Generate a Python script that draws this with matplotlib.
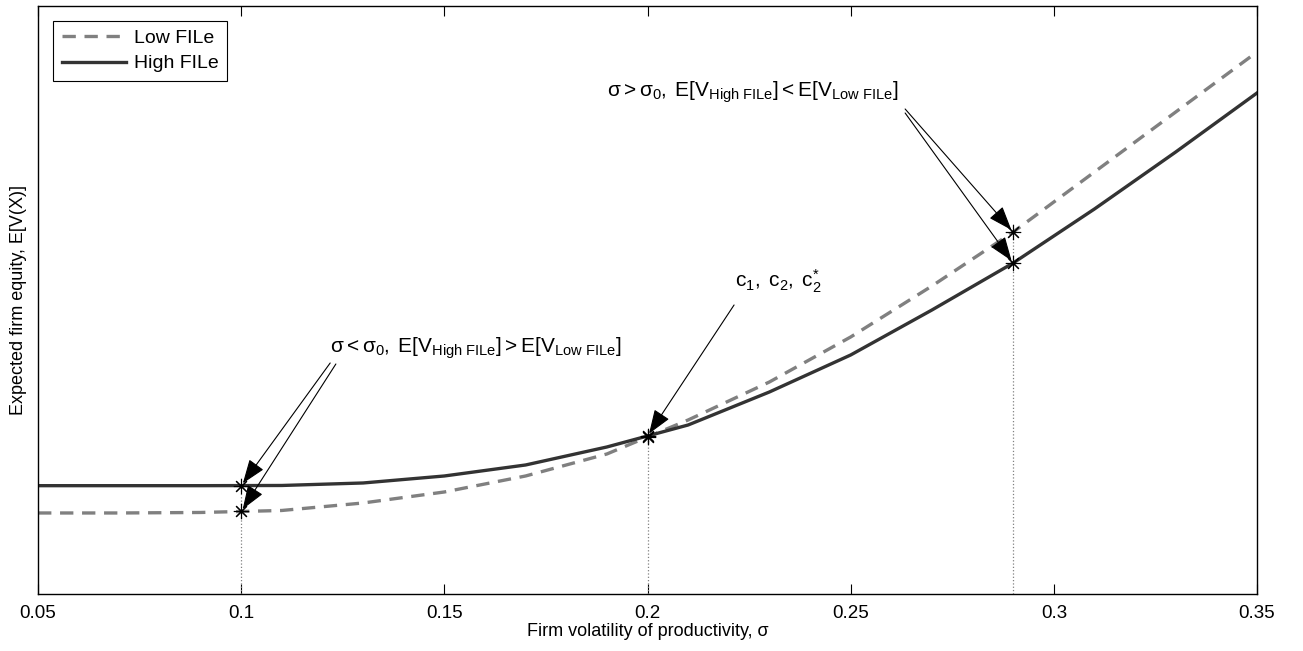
import numpy as np
import matplotlib
matplotlib.use("Agg")
import matplotlib.pyplot as plt

plt.rcParams['font.family'] = ['Liberation Sans', 'DejaVu Sans']
plt.rcParams['mathtext.fontset'] = 'custom'
plt.rcParams['mathtext.rm'] = 'Liberation Sans'
plt.rcParams['mathtext.it'] = 'Liberation Sans:italic'
plt.rcParams['mathtext.bf'] = 'Liberation Sans:bold'

# volatility grid
sigma = [0.05, 0.07, 0.09, 0.11, 0.13, 0.15, 0.17, 0.19,
         0.21, 0.23, 0.25, 0.27, 0.29, 0.31, 0.33, 0.35]
# expected equity (arbitrary units)
low_file = [81, 81, 81.5, 83.5, 91, 102, 118, 140,
            174, 212, 257, 308, 362, 422, 482, 542]
high_file = [108.3, 108.3, 108.3, 108.5, 111, 118, 129, 147,
             169, 202, 239, 284, 331, 385, 442, 501]

# points marked with stars / dotted guides
marked = [0.1, 0.2, 0.29]

lbl_low = r'$\mathrm{\sigma < \sigma_0,\;E[V_{High\ FILe}] > E[V_{Low\ FILe}]}$'
lbl_high = r'$\mathrm{\sigma > \sigma_0,\;E[V_{High\ FILe}] < E[V_{Low\ FILe}]}$'
lbl_c = r'$\mathrm{c_1,\;c_2,\;c_2^{*}}$'

fig = plt.figure(figsize=(13.03, 6.51), dpi=100)
ax = fig.add_axes([0.0292, 0.0876, 0.9355, 0.9032])

ax.plot(sigma, low_file, color='#808080', lw=2.4, dashes=(4, 2.6), label='Low FILe')
ax.plot(sigma, high_file, color='#333333', lw=2.4, label='High FILe')

y_low = np.interp(marked, sigma, low_file)
y_high = np.interp(marked, sigma, high_file)
for xm, yl, yh in zip(marked, y_low, y_high):
    ax.plot([xm, xm], [0, max(yl, yh)], color='#808080', ls=':', lw=0.9)
    ax.plot([xm, xm], [yl, yh], ls='none', marker=(8, 2, 0), ms=11,
            mec='black', mew=0.8)

arrow = dict(arrowstyle='-|>,head_length=1.5,head_width=0.55', color='black',
             lw=0.8, shrinkA=0, shrinkB=2)

# lower annotation at sigma = 0.1
ax.text(0.1219, 241, lbl_low, fontsize=15, ha='left', va='baseline')
ax.annotate('', xy=(0.1, y_high[0]), xytext=(0.1219, 231), arrowprops=arrow)
ax.annotate('', xy=(0.1, y_low[0]), xytext=(0.1233, 230), arrowprops=arrow)

# upper annotation at sigma = 0.29
ax.text(0.190, 497, lbl_high, fontsize=15, ha='left', va='baseline')
ax.annotate('', xy=(0.29, y_low[2]), xytext=(0.2634, 485), arrowprops=arrow)
ax.annotate('', xy=(0.29, y_high[2]), xytext=(0.2634, 481), arrowprops=arrow)

# crossing point
ax.text(0.2215, 307, lbl_c, fontsize=15, ha='left', va='baseline')
ax.annotate('', xy=(0.2, y_high[1]), xytext=(0.2213, 289), arrowprops=arrow)

ax.set_xlim(0.05, 0.35)
ax.set_ylim(0, 588)
ax.set_xticks([0.05, 0.1, 0.15, 0.2, 0.25, 0.3, 0.35])
ax.set_xticklabels(['0.05', '0.1', '0.15', '0.2', '0.25', '0.3', '0.35'])
ax.set_yticks([])
ax.tick_params(axis='x', direction='in', top=True, length=7, width=0.8,
               labelsize=13.5, pad=8)
for s in ax.spines.values():
    s.set_linewidth(1.0)

ax.set_xlabel(r'Firm volatility of productivity, σ', fontsize=13, labelpad=1)
ax.set_ylabel('Expected firm equity, E[V(X)]', fontsize=13, labelpad=8)

leg = ax.legend(loc='upper left', bbox_to_anchor=(0.0125, 0.975), fontsize=14,
                fancybox=False, framealpha=1, edgecolor='black',
                handlelength=3.3, borderpad=0.45, labelspacing=0.4,
                handletextpad=0.4, borderaxespad=0)
leg.get_frame().set_linewidth(0.8)

fig.savefig('out.png', dpi=100)
